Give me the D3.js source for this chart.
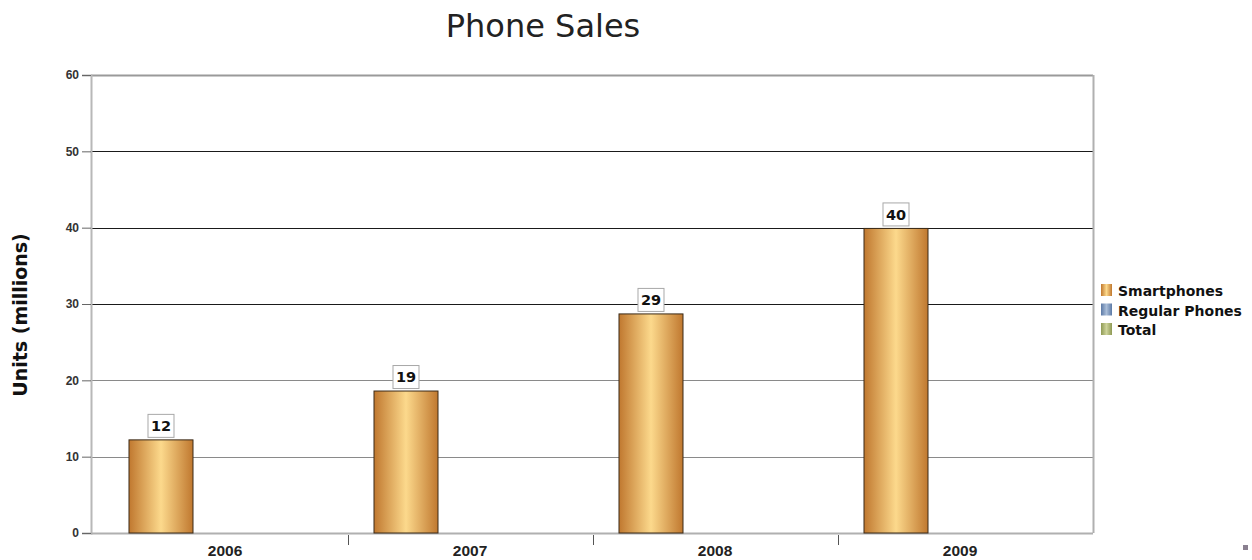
<!DOCTYPE html>
<html>
<head>
<meta charset="utf-8">
<script src="https://cdn.jsdelivr.net/npm/d3@7"></script>
<style>
  html, body { margin: 0; padding: 0; background: #fff; }
  svg { display: block; font-family: "DejaVu Sans", Verdana, sans-serif; }
</style>
</head>
<body>
<svg id="chart" width="1252" height="560"></svg>
<script>
// ---- data ----
const categories = ["2006", "2007", "2008", "2009"];
const seriesNames = ["Smartphones", "Regular Phones", "Total"];
const smartphones = [12.2, 18.6, 28.7, 39.9];
const regularPhones = [0, 0, 0, 0];
const total = [0, 0, 0, 0];
const yTicks = [0, 10, 20, 30, 40, 50, 60];
const title = "Phone Sales";
const yTitle = "Units (millions)";

// ---- layout / style ----
const W = 1252, H = 560;
const plot = { left: 91, right: 1093, top: 75, bottom: 533 };
const seriesColors = [
  { edge: "#c0782f", mid: "#fcd98c", stroke: "#3a2a18" },
  { edge: "#5c7aa6", mid: "#a9bdd8", stroke: "#2a3448" },
  { edge: "#8f9a55", mid: "#cdd39a", stroke: "#3a3f20" }
];
const darkGrid = new Set([30, 40, 50]);

const svg = d3.select("#chart");
const defs = svg.append("defs");
seriesColors.forEach((c, i) => {
  const g = defs.append("linearGradient").attr("id", "grad" + i)
    .attr("x1", "0%").attr("x2", "100%").attr("y1", "0%").attr("y2", "0%");
  g.append("stop").attr("offset", "0%").attr("stop-color", c.edge);
  g.append("stop").attr("offset", "50%").attr("stop-color", c.mid);
  g.append("stop").attr("offset", "100%").attr("stop-color", c.edge);
});

const seriesValues = [smartphones, regularPhones, total];

const y = d3.scaleLinear().domain([0, 60]).range([plot.bottom, plot.top]);
const x = d3.scaleBand().domain(categories)
  .range([plot.left + 11.5, plot.right - 10.5]).paddingInner(0).paddingOuter(0);
const xs = d3.scaleBand().domain(seriesNames)
  .range([0, x.bandwidth()]).paddingInner(0).paddingOuter(0.414);

// title
svg.append("text").attr("x", 543).attr("y", 37).attr("text-anchor", "middle")
  .attr("font-size", 32).attr("fill", "#222").text(title);

// gridlines
svg.append("g").selectAll("line").data(yTicks.filter(t => t > 0)).join("line")
  .attr("x1", plot.left).attr("x2", plot.right)
  .attr("y1", d => Math.round(y(d)) + 0.5).attr("y2", d => Math.round(y(d)) + 0.5)
  .attr("stroke", d => d === 60 ? "#9a9a9a" : (darkGrid.has(d) ? "#1a1a1a" : "#8a8a8a"))
  .attr("stroke-width", d => d === 60 ? 2 : 1.2);

// right border
svg.append("line").attr("x1", plot.right + 0.5).attr("x2", plot.right + 0.5)
  .attr("y1", plot.top).attr("y2", plot.bottom)
  .attr("stroke", "#b0b0b0").attr("stroke-width", 2);

// y axis
const yAxis = d3.axisLeft(y).tickValues(yTicks).tickSize(9).tickPadding(3);
const gy = svg.append("g").attr("transform", `translate(${plot.left},0)`).call(yAxis);
gy.select(".domain").attr("stroke", "#b8b8b8").attr("stroke-width", 2);
gy.selectAll(".tick line").attr("stroke", "#666");
gy.selectAll(".tick text").attr("font-size", 12).attr("font-weight", "bold").attr("fill", "#333");

// x axis
const xAxis = d3.axisBottom(x).tickSize(0).tickPadding(12);
const gx = svg.append("g").attr("transform", `translate(0,${plot.bottom})`).call(xAxis);
gx.select(".domain").remove();
gx.selectAll(".tick text").attr("font-size", 15.5).attr("font-weight", "bold").attr("fill", "#222");
svg.append("line").attr("x1", plot.left).attr("x2", plot.right)
  .attr("y1", plot.bottom + 0.5).attr("y2", plot.bottom + 0.5)
  .attr("stroke", "#b0b0b0").attr("stroke-width", 2);
svg.append("g").selectAll("line").data(categories.slice(1)).join("line")
  .attr("x1", d => Math.round(x(d)) + 0.5).attr("x2", d => Math.round(x(d)) + 0.5)
  .attr("y1", plot.bottom + 2).attr("y2", plot.bottom + 12)
  .attr("stroke", "#555");

// bars
seriesNames.forEach((s, si) => {
  const vals = seriesValues[si];
  svg.append("g").selectAll("rect").data(categories).join("rect")
    .attr("x", (c) => x(c) + xs(s))
    .attr("width", xs.bandwidth())
    .attr("y", (c, i) => y(vals[i]))
    .attr("height", (c, i) => y(0) - y(vals[i]))
    .attr("fill", `url(#grad${si})`)
    .attr("stroke", (c, i) => vals[i] > 0 ? seriesColors[si].stroke : "none")
    .attr("stroke-width", 1);
});

// data labels (smartphones)
const fmt = d3.format(".0f");
const lab = svg.append("g").selectAll("g").data(categories).join("g")
  .attr("transform", (c, i) => `translate(${x(c) + xs(seriesNames[0]) + xs.bandwidth() / 2},${y(smartphones[i]) - 14})`);
lab.append("rect").attr("x", -13).attr("y", -11.5).attr("width", 26).attr("height", 23)
  .attr("fill", "#fff").attr("stroke", "#a8a8a8");
lab.append("text").attr("text-anchor", "middle").attr("dy", "0.36em")
  .attr("font-size", 14.5).attr("font-weight", "bold").attr("fill", "#111")
  .text((c, i) => fmt(smartphones[i]));

// y title
svg.append("text").attr("transform", "translate(27,315) rotate(-90)")
  .attr("text-anchor", "middle").attr("font-size", 19).attr("font-weight", "bold")
  .attr("fill", "#111").text(yTitle);

// legend
const leg = svg.append("g").selectAll("g").data(seriesNames).join("g")
  .attr("transform", (d, i) => `translate(1101,${284 + i * 19.5})`);
leg.append("rect").attr("width", 11).attr("height", 12)
  .attr("fill", (d, i) => `url(#grad${i})`);
leg.append("text").attr("x", 17).attr("y", 12).attr("font-size", 14)
  .attr("font-weight", "bold").attr("fill", "#111").text(d => d);

// tiny corner icon
svg.append("rect").attr("x", 1243).attr("y", 545).attr("width", 5).attr("height", 5)
  .attr("fill", "#8a8090");
</script>
</body>
</html>
